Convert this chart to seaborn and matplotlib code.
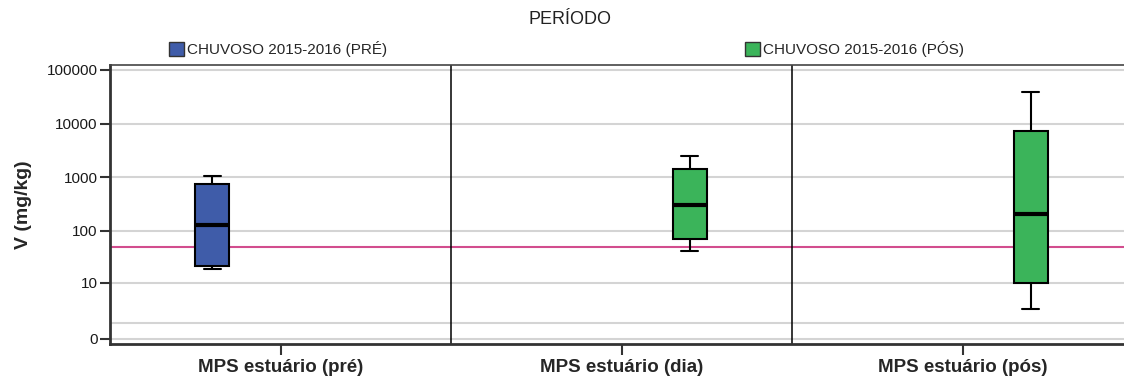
import numpy as np
import pandas as pd
import seaborn as sns
import matplotlib
matplotlib.use("Agg")
import matplotlib.pyplot as plt
from matplotlib.patches import Patch
from matplotlib.ticker import NullFormatter

# --- data -------------------------------------------------------------
categories = ["MPS estuário (pré)", "MPS estuário (dia)", "MPS estuário (pós)"]
periods = ["CHUVOSO 2015-2016 (PRÉ)", "CHUVOSO 2015-2016 (PÓS)"]
group_periods = [periods[0], periods[1], periods[1]]

# five-number summaries per sample group (min, Q1, median, Q3, max), mg/kg
pre_values = [19, 21, 130, 750, 1070]
dia_values = [42, 69, 300, 1440, 2520]
pos_values = [2.6, 9.7, 207, 7300, 38000]

reference_level = 50  # guideline value (mg/kg)

y_ticks = [0, 10, 100, 1000, 10000, 100000]
y_tick_labels = ["0", "10", "100", "1000", "10000", "100000"]
y_minor_grid = [1]

period_colors = ["#3f5ca9", "#3bb45a"]

rows = []
for cat, per, vals in zip(categories, group_periods, [pre_values, dia_values, pos_values]):
    for v in vals:
        rows.append({"amostra": cat, "periodo": per, "V": v})
df = pd.DataFrame(rows)

# --- style ------------------------------------------------------------
sns.set_style("white")
plt.rcParams["font.family"] = ["Liberation Sans", "DejaVu Sans"]

W, H = 1124, 386
fig = plt.figure(figsize=(W / 100, H / 100), dpi=100)
ax = fig.add_axes([110 / W, 1 - 344 / H, 1023 / W, 279 / H])

sns.boxplot(
    data=df, x="amostra", y="V", hue="periodo",
    order=categories, hue_order=periods, palette=period_colors, saturation=1,
    dodge=True, width=0.8, gap=0.75, whis=(0, 100), showfliers=False,
    linewidth=1.5, linecolor="black",
    medianprops=dict(linewidth=3, color="black"),
    legend=False, ax=ax,
)

# safe-log axis: log10(v + 1) so that zero can be shown
def fwd(v):
    v = np.asarray(v, dtype=float)
    return np.log10(np.clip(v, -0.999999, None) + 1)

def inv(v):
    return 10 ** np.asarray(v, dtype=float) - 1

ax.set_yscale("function", functions=(fwd, inv))
ax.set_ylim(-0.203, 122300)
ax.set_xlim(-0.5, 2.5)

ax.set_yticks(y_ticks, y_tick_labels)
ax.set_yticks(y_minor_grid, minor=True)
ax.yaxis.set_minor_formatter(NullFormatter())

ax.grid(axis="y", which="both", color="#d4d4d4", linewidth=1.5)
ax.grid(axis="x", visible=False)
ax.set_axisbelow(True)

ax.axhline(reference_level, color="#d24d8e", linewidth=1.5, zorder=1.5)
for xv in (0.5, 1.5):
    ax.axvline(xv, color="black", linewidth=1.1, zorder=1.6)

ax.tick_params(axis="y", which="major", length=7, width=1.5, color="#333333",
               labelsize=11, pad=2, labelcolor="#1a1a1a", left=True)
ax.tick_params(axis="y", which="minor", length=0)
ax.tick_params(axis="x", length=8, width=1.5, color="#333333", pad=3, bottom=True)
for lab in ax.get_xticklabels():
    lab.set_fontweight("bold")
    lab.set_fontsize(13.5)

ax.set_xlabel("")
ax.set_ylabel("V (mg/kg)", fontsize=14, fontweight="bold")
ax.yaxis.set_label_coords(-0.076, 0.5)

for side in ("left", "bottom"):
    ax.spines[side].set_linewidth(2)
    ax.spines[side].set_color("#333333")
ax.spines["top"].set_linewidth(1.2)
ax.spines["top"].set_color("#444444")
ax.spines["right"].set_visible(False)

# --- title and legend -------------------------------------------------
fig.text(570 / W, 1 - 20 / H, "PERÍODO", ha="center", va="center",
         fontsize=13, color="#222222")

for x0, color, label in zip([169, 745], period_colors, periods):
    fig.legend(
        handles=[Patch(facecolor=color, edgecolor="#333333", linewidth=1)],
        labels=[label], loc="center left",
        bbox_to_anchor=(x0 / W, 1 - 49 / H), frameon=False, fontsize=11,
        handlelength=1.0, handleheight=1.0, handletextpad=0.2,
        borderpad=0, borderaxespad=0,
    )

fig.savefig("out.png", dpi=100)
